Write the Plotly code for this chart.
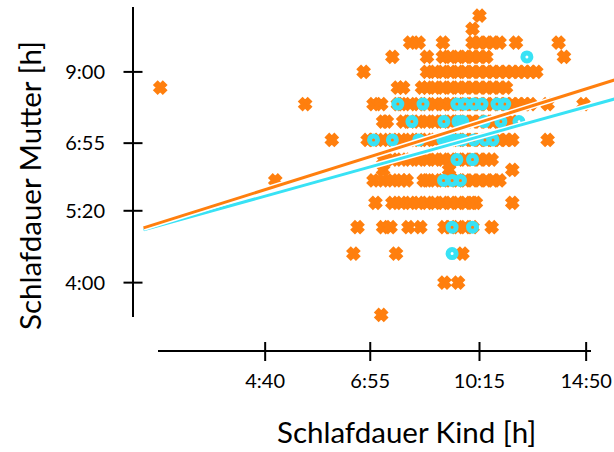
import numpy as np
import plotly.graph_objects as go

# Power transforms used for both axes (values are sleep durations in hours)
LAMBDA_KIND = 0.10
LAMBDA_MUTTER = 0.15

ORANGE = "#ff7f0e"
CYAN = "#38e2f5"
FONT = "Lato"

# Alle Paare: Schlafdauer Kind / Mutter in Stunden
kind_alle = [
    10.25,
    10.0,
    8.0, 8.25, 9.0, 10.0, 10.25, 10.5, 10.75, 11.0, 11.65, 13.5,
    7.5, 8.5, 9.0, 9.25, 9.5, 9.75, 10.0, 10.25, 10.5, 13.75,
    6.75, 8.5, 8.75, 9.0, 9.25, 9.5, 9.75, 10.0, 10.25, 10.5, 10.75, 11.0, 11.25, 11.5, 11.75, 12.0, 12.25, 12.5,
    3.1, 7.65, 7.8, 8.35, 8.5, 8.75, 9.0, 9.25, 9.5, 9.75, 10.0, 10.25, 10.5, 10.75, 11.0, 11.25,
    5.43, 7.0, 7.2, 7.65, 7.75, 8.0, 8.25, 8.5, 8.75, 9.0, 9.25, 9.5, 9.75, 10.0, 10.25, 10.5, 10.75, 11.0, 11.25, 11.5, 11.75, 12.0, 12.25, 13.0, 14.7,
    7.25, 7.35, 7.8, 8.0, 8.25, 8.5, 8.75, 9.0, 9.25, 9.5, 9.75, 10.0, 10.25, 10.5, 10.75, 11.0, 11.25, 11.5,
    6.0, 6.85, 7.0, 7.25, 7.5, 7.75, 8.0, 8.25, 8.5, 8.75, 9.0, 9.25, 9.5, 9.75, 10.0, 10.25, 10.5, 10.75, 11.0, 11.25, 11.5, 13.0,
    7.25, 7.5, 7.75, 8.0, 8.25, 8.5, 8.75, 9.0, 9.25, 9.5, 9.75, 10.0, 10.25, 10.5, 10.7,
    7.25, 9.2, 11.5,
    4.85, 7.0, 7.25, 7.5, 7.75, 7.9, 8.4, 8.5, 8.75, 9.0, 9.25, 9.5, 9.75, 10.0, 10.25, 10.5, 10.75, 11.0,
    7.05, 7.5, 7.75, 8.0, 8.25, 8.5, 8.75, 9.0, 9.25, 9.5, 9.75, 10.0, 10.12, 11.5,
    6.6, 7.25, 7.45, 7.95, 8.3, 9.05, 9.25, 9.5, 9.75, 10.0, 10.7,
    6.5, 7.6, 9.65,
    9.05, 9.5,
    7.2,
]
mutter_alle = [
    11.0,
    10.5,
    10.0, 10.0, 10.0, 10.0, 10.0, 10.0, 10.0, 10.0, 10.0, 10.0,
    9.5, 9.5, 9.5, 9.5, 9.5, 9.5, 9.5, 9.5, 9.5, 9.5,
    9.0, 9.0, 9.0, 9.0, 9.0, 9.0, 9.0, 9.0, 9.0, 9.0, 9.0, 9.0, 9.0, 9.0, 9.0, 9.0, 9.0, 9.0,
    8.5, 8.5, 8.5, 8.5, 8.5, 8.5, 8.5, 8.5, 8.5, 8.5, 8.5, 8.5, 8.5, 8.5, 8.5, 8.5,
    8.0, 8.0, 8.0, 8.0, 8.0, 8.0, 8.0, 8.0, 8.0, 8.0, 8.0, 8.0, 8.0, 8.0, 8.0, 8.0, 8.0, 8.0, 8.0, 8.0, 8.0, 8.0, 8.0, 8.0, 8.0,
    7.5, 7.5, 7.5, 7.5, 7.5, 7.5, 7.5, 7.5, 7.5, 7.5, 7.5, 7.5, 7.5, 7.5, 7.5, 7.5, 7.5, 7.5,
    7.0, 7.0, 7.0, 7.0, 7.0, 7.0, 7.0, 7.0, 7.0, 7.0, 7.0, 7.0, 7.0, 7.0, 7.0, 7.0, 7.0, 7.0, 7.0, 7.0, 7.0, 7.0,
    6.5, 6.5, 6.5, 6.5, 6.5, 6.5, 6.5, 6.5, 6.5, 6.5, 6.5, 6.5, 6.5, 6.5, 6.5,
    6.25, 6.25, 6.25,
    6.0, 6.0, 6.0, 6.0, 6.0, 6.0, 6.0, 6.0, 6.0, 6.0, 6.0, 6.0, 6.0, 6.0, 6.0, 6.0, 6.0, 6.0,
    5.5, 5.5, 5.5, 5.5, 5.5, 5.5, 5.5, 5.5, 5.5, 5.5, 5.5, 5.5, 5.5, 5.5,
    5.0, 5.0, 5.0, 5.0, 5.0, 5.0, 5.0, 5.0, 5.0, 5.0, 5.0,
    4.5, 4.5, 4.5,
    4.0, 4.0,
    3.5,
]

# Teilgruppe
kind_gruppe = [
    12.1,
    7.65, 8.38, 9.46, 9.73, 10.05, 10.34, 10.9, 11.2,
    8.05, 9.03, 9.5, 9.66, 10.42, 11.05, 11.77,
    7.0, 7.5, 8.25, 9.0, 9.15, 9.3, 9.5, 9.65, 10.05, 10.45, 10.75,
    9.46, 10.0,
    9.02, 9.3, 9.58,
    9.3, 10.0,
    9.3,
]
mutter_gruppe = [
    9.5,
    8.0, 8.0, 8.0, 8.0, 8.0, 8.0, 8.0, 8.0,
    7.5, 7.5, 7.5, 7.5, 7.5, 7.5, 7.5,
    7.0, 7.0, 7.0, 7.0, 7.0, 7.0, 7.0, 7.0, 7.0, 7.0, 7.0,
    6.5, 6.5,
    6.0, 6.0, 6.0,
    5.0, 5.0,
    4.5,
]

# Regression lines in transformed units: (intercept, slope)
fit_alle = (0.67993, 0.53275)
fit_gruppe = (0.74648, 0.47154)
fit_kind_range = [2.9, 17.0]

# Axis ticks (hours) and their labels
x_tick_hours = [4 + 40 / 60, 6 + 55 / 60, 10.25, 14 + 50 / 60]
x_tick_text = ["4:40", "6:55", "10:15", "14:50"]
y_tick_hours = [4.0, 5 + 20 / 60, 6 + 55 / 60, 9.0]
y_tick_text = ["4:00", "5:20", "6:55", "9:00"]

x_range_hours = [2.78, 16.3]
y_range_hours = [3.47, 11.34]


def tx(h):
    return np.power(np.asarray(h, dtype=float), LAMBDA_KIND)


def ty(h):
    return np.power(np.asarray(h, dtype=float), LAMBDA_MUTTER)


W, H = 614, 452
fig = go.Figure()

fig.add_trace(go.Scatter(
    x=tx(kind_alle), y=ty(mutter_alle), mode="markers", cliponaxis=False,
    marker=dict(symbol="x", size=9, color=ORANGE,
                line=dict(width=3.2, color=ORANGE)),
    showlegend=False, hoverinfo="skip"))

fig.add_trace(go.Scatter(
    x=tx(kind_gruppe), y=ty(mutter_gruppe), mode="markers", cliponaxis=False,
    marker=dict(symbol="circle-open", size=8, color=CYAN,
                line=dict(width=5, color=CYAN)),
    showlegend=False, hoverinfo="skip"))

xl = tx(fit_kind_range)
for (a, b), col in [(fit_gruppe, CYAN), (fit_alle, ORANGE)]:
    yl = a + b * xl
    fig.add_trace(go.Scatter(x=xl, y=yl, mode="lines",
                             line=dict(color="white", width=6),
                             showlegend=False, hoverinfo="skip"))
    fig.add_trace(go.Scatter(x=xl, y=yl, mode="lines",
                             line=dict(color=col, width=3),
                             showlegend=False, hoverinfo="skip"))

# Detached axis lines and crossing tick marks
y_axis_x = 133 / W
x_axis_y = 1 - 351 / H
shapes = [
    dict(type="line", xref="paper", yref="paper", x0=y_axis_x, x1=y_axis_x,
         y0=1 - 317 / H, y1=1 - 7 / H, line=dict(color="black", width=2)),
    dict(type="line", xref="paper", yref="paper", x0=158 / W, x1=591 / W,
         y0=x_axis_y, y1=x_axis_y, line=dict(color="black", width=2)),
]
for v in ty(y_tick_hours):
    shapes.append(dict(type="line", xref="paper", yref="y",
                       x0=123.5 / W, x1=142.5 / W, y0=v, y1=v,
                       line=dict(color="black", width=2)))
for v in tx(x_tick_hours):
    shapes.append(dict(type="line", xref="x", yref="paper",
                       x0=v, x1=v, y0=1 - 342 / H, y1=1 - 361 / H,
                       line=dict(color="black", width=2)))

fig.update_layout(
    width=W, height=H,
    margin=dict(l=0, r=0, t=0, b=0),
    paper_bgcolor="white", plot_bgcolor="white",
    font=dict(family=FONT, color="black"),
    shapes=shapes,
    xaxis=dict(domain=[133 / W, 1], range=list(tx(x_range_hours)),
               anchor="free", position=x_axis_y, side="bottom",
               showgrid=False, zeroline=False, showline=False, ticks="",
               tickmode="array", tickvals=list(tx(x_tick_hours)),
               ticktext=x_tick_text, tickfont=dict(size=20, family=FONT),
               ticklabelstandoff=16),
    yaxis=dict(domain=[1 - 317 / H, 1 - 7 / H], range=list(ty(y_range_hours)),
               anchor="free", position=y_axis_x, side="left",
               showgrid=False, zeroline=False, showline=False, ticks="",
               tickmode="array", tickvals=list(ty(y_tick_hours)),
               ticktext=y_tick_text, tickfont=dict(size=20, family=FONT),
               ticklabelstandoff=28),
    annotations=[
        dict(text="Schlafdauer Kind [h]", xref="paper", yref="paper",
             x=406 / W, y=1 - 431 / H, showarrow=False,
             font=dict(size=29.5, family=FONT), xanchor="center", yanchor="middle"),
        dict(text="Schlafdauer Mutter [h]", xref="paper", yref="paper",
             x=29 / W, y=1 - 186 / H, showarrow=False, textangle=-90,
             font=dict(size=29.5, family=FONT), xanchor="center", yanchor="middle"),
    ],
)

fig.write_html("out.html")
